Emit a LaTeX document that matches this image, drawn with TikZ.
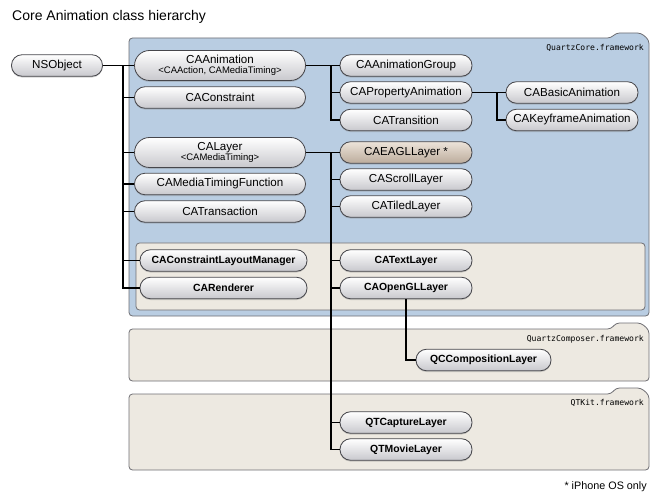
\documentclass[tikz,border=0pt]{standalone}
\usepackage{fontspec}
\setmainfont{Liberation Sans}
\newfontfamily\fwfont{DejaVu Sans Mono}
\usetikzlibrary{shadows}
\definecolor{qcblue}{RGB}{185,205,226}
\definecolor{fwborder}{RGB}{110,110,115}
\definecolor{beige}{RGB}{237,233,225}
\definecolor{pillborder}{RGB}{70,70,75}
\definecolor{pillbottom}{RGB}{200,200,205}
\definecolor{eagltop}{RGB}{236,227,217}
\definecolor{eaglbot}{RGB}{188,172,156}
\begin{document}
\begin{tikzpicture}[x=1pt,y=-1pt,
  pill/.style={draw=pillborder, line width=0.8pt, rounded corners=10.5pt,
    minimum height=21.5pt, inner sep=0pt, top color=white, bottom color=pillbottom,
    font=\fontsize{11.6}{12}\selectfont,
    drop shadow={shadow xshift=0pt, shadow yshift=-1.3pt, opacity=0.35}},
  tall/.style={pill, rounded corners=15pt, minimum height=30pt, align=center},
  bpill/.style={pill, font=\fontsize{10.4}{12}\selectfont\bfseries},
  wideL/.style={minimum width=171pt},
  wideR/.style={minimum width=132pt},
  eagl/.style={top color=eagltop, bottom color=eaglbot},
  fwbox/.style={draw=fwborder, line width=0.8pt, rounded corners=3.5pt},
  fwlabel/.style={font=\fwfont\fontsize{8.1}{10}\selectfont, anchor=east, inner sep=0pt},
  conn/.style={draw=black, line width=1.1pt}
]
\useasboundingbox (0,0) rectangle (667,497);

% title
\node[anchor=base west, inner sep=0pt, font=\fontsize{14}{16}\selectfont] (title) at (12,21) {Core Animation class hierarchy};

% frameworks
\draw[fwbox, fill=qcblue] (129,38) -- (611,38) -- (616,33) -- (641,33) -- (649,40) -- (649,316) -- (129,316) -- cycle;
\draw[fwbox, fill=beige] (136,243) rectangle (645,310);
\node[fwlabel] (qclbl) at (644,48) {QuartzCore.framework};

\draw[fwbox, fill=beige] (129,329) -- (611,329) -- (616,323) -- (641,323) -- (649,330) -- (649,381) -- (129,381) -- cycle;
\node[fwlabel] (qcclbl) at (644,339) {QuartzComposer.framework};

\draw[fwbox, fill=beige] (129,394) -- (611,394) -- (616,388) -- (641,388) -- (649,395) -- (649,470) -- (129,470) -- cycle;
\node[fwlabel] (qtlbl) at (644,403) {QTKit.framework};

% nodes
\node[pill, minimum width=91pt] (nsobject) at (57,65.5) {NSObject};
\node[tall, wideL] (caanimation) at (220,65.5) {CAAnimation\\[-2.5pt]{\fontsize{9.5}{10}\selectfont <CAAction, CAMediaTiming>}};
\node[pill, wideL] (caconstraint) at (220,97.5) {CAConstraint};
\node[tall, wideL] (calayer) at (220,152.5) {CALayer\\[-2.5pt]{\fontsize{9.5}{10}\selectfont <CAMediaTiming>}};
\node[pill, wideL] (catimingfn) at (220,184) {CAMediaTimingFunction};
\node[pill, wideL] (catransaction) at (220,211.5) {CATransaction};
\node[bpill, minimum width=167pt] (calayoutmgr) at (223.5,260.5) {CAConstraintLayoutManager};
\node[bpill, minimum width=167pt] (carenderer) at (223.5,288) {CARenderer};

\node[pill, wideR] (cagroup) at (406,65.5) {CAAnimationGroup};
\node[pill, wideR] (caprop) at (406,92.5) {CAPropertyAnimation};
\node[pill, wideR] (catransition) at (406,120) {CATransition};
\node[pill, wideR] (cabasic) at (572,92.5) {CABasicAnimation};
\node[pill, wideR] (cakeyframe) at (572,120) {CAKeyframeAnimation};

\node[pill, wideR, eagl] (caeagl) at (406,152.5) {CAEAGLLayer *};
\node[pill, wideR] (cascroll) at (406,179.5) {CAScrollLayer};
\node[pill, wideR] (catiled) at (406,206.5) {CATiledLayer};
\node[bpill, wideR] (catext) at (406,260.5) {CATextLayer};
\node[bpill, wideR] (caopengl) at (406,288) {CAOpenGLLayer};
\node[bpill, minimum width=135pt] (qccomp) at (483.5,360) {QCCompositionLayer};
\node[bpill, wideR] (qtcapture) at (406,422.5) {QTCaptureLayer};
\node[bpill, wideR] (qtmovie) at (406,449.5) {QTMovieLayer};

% connectors
\coordinate (t1) at (123,65.5);
\draw[conn] (nsobject.east) -- (caanimation.west);
\foreach \n in {caconstraint,calayer,catimingfn,catransaction,calayoutmgr,carenderer}
  \draw[conn] (t1) |- (\n.west);

\coordinate (t2) at (331,65.5);
\draw[conn] (caanimation.east) -- (cagroup.west);
\foreach \n in {caprop,catransition}
  \draw[conn] (t2) |- (\n.west);

\coordinate (t3) at (497,92.5);
\draw[conn] (caprop.east) -- (cabasic.west);
\draw[conn] (t3) |- (cakeyframe.west);

\coordinate (t4) at (331,152.5);
\draw[conn] (calayer.east) -- (caeagl.west);
\foreach \n in {cascroll,catiled,catext,caopengl,qtcapture,qtmovie}
  \draw[conn] (t4) |- (\n.west);

\draw[conn] (caopengl.south) |- (qccomp.west);

% footnote
\node[anchor=base east, inner sep=0pt, font=\fontsize{10.8}{12}\selectfont] (foot) at (647,489) {* iPhone OS only};
\end{tikzpicture}
\end{document}
